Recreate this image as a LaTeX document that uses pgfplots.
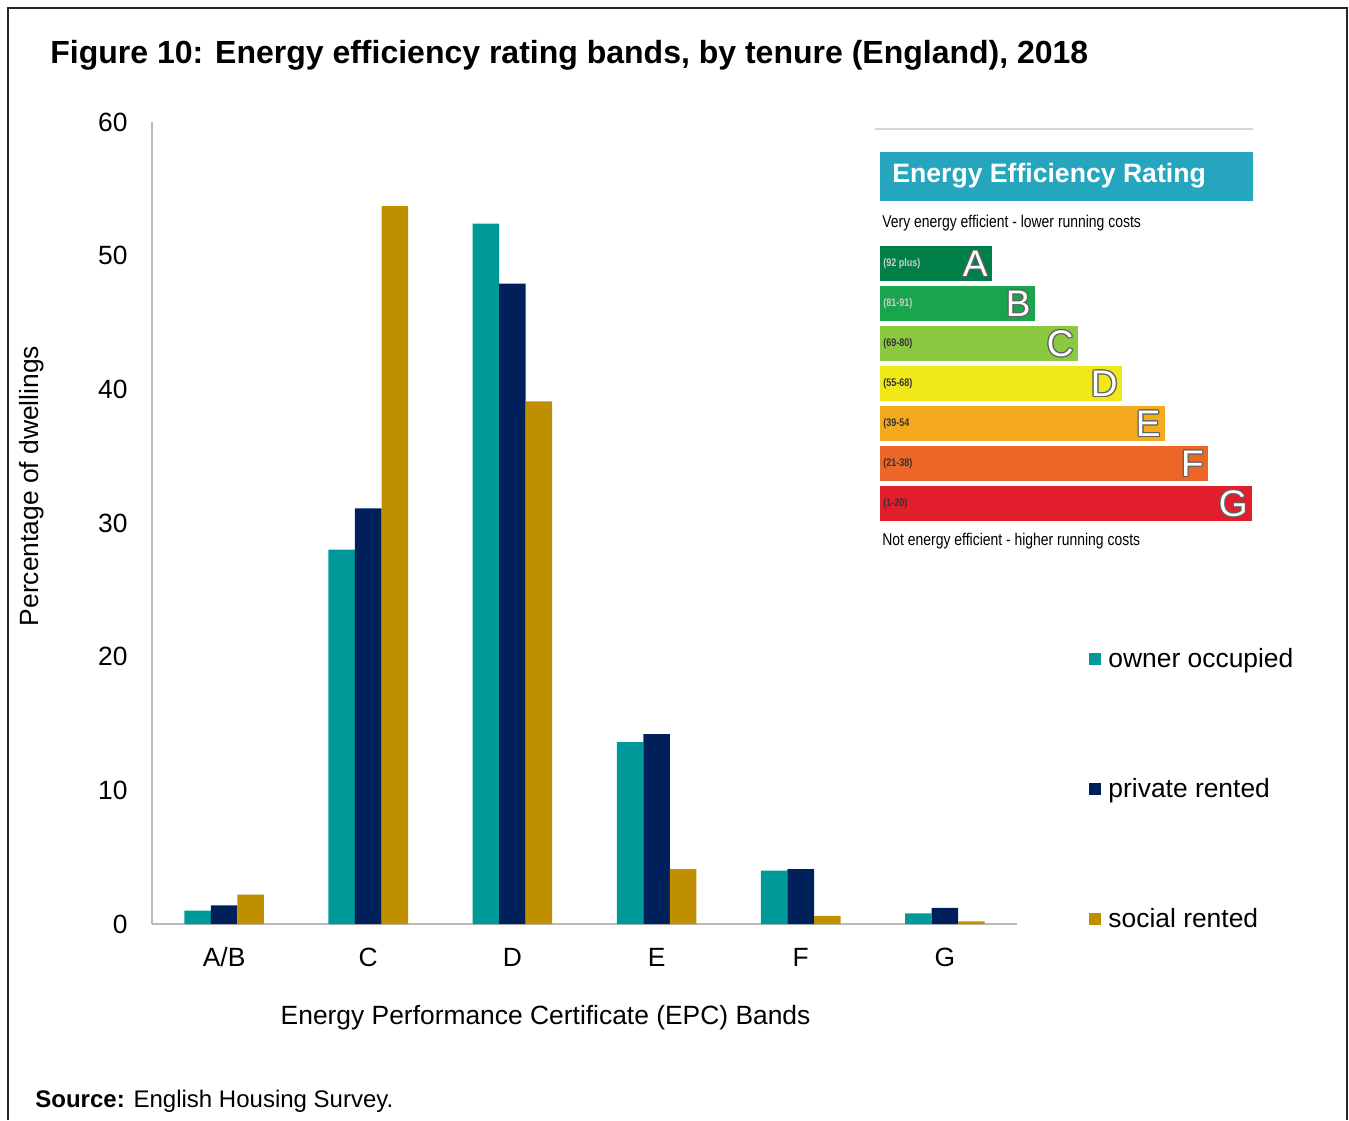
\documentclass[border=0pt]{standalone}
\usepackage{pgfplots}
\pgfplotsset{compat=1.18}
\usepackage{fontspec}
\setmainfont{Liberation Sans}
\newfontfamily\narrowfont[FakeStretch=0.82]{Liberation Sans}
\definecolor{teal1}{RGB}{0,153,153}
\definecolor{navy1}{RGB}{0,32,91}
\definecolor{gold1}{RGB}{191,143,0}
\definecolor{epchead}{RGB}{38,166,190}
\definecolor{epcA}{RGB}{0,128,72}
\definecolor{epcB}{RGB}{25,165,75}
\definecolor{epcC}{RGB}{141,200,65}
\definecolor{epcD}{RGB}{240,232,25}
\definecolor{epcE}{RGB}{245,170,30}
\definecolor{epcF}{RGB}{236,102,40}
\definecolor{epcG}{RGB}{226,30,45}
\newcommand{\epcfont}{\fontsize{18.5}{18.5}\selectfont}
\newcommand{\epcL}[3]{%
 \foreach \dx/\dy in {0.6/0,-0.6/0,0/0.6,0/-0.6,0.45/0.45,-0.45/0.45,0.45/-0.45,-0.45/-0.45}{
   \node[anchor=east, text=gray!75!black, font=\epcfont, inner sep=0pt] at ([shift={(\dx pt,\dy pt)}]#1pt,#2pt) {#3};}
 \node[anchor=east, text=white, font=\epcfont, inner sep=0pt] at (#1pt,#2pt) {#3};}
\begin{document}
\begin{tikzpicture}
\useasboundingbox (0,0) rectangle (674.5pt,560pt);
% frame
\draw[line width=1pt, black!85] (4pt,0pt) -- (4pt,556pt) -- (673.5pt,556pt) -- (673.5pt,0pt);
% title
\node[anchor=base west, inner sep=0pt, font=\fontsize{16}{20}\selectfont\bfseries] at (25pt,528pt) {Figure 10: Energy efficiency rating bands, by tenure (England), 2018};
% source
\node[anchor=base west, inner sep=0pt, font=\fontsize{12}{14}\selectfont] at (17.5pt,6.5pt) {\textbf{Source:} English Housing Survey.};

\begin{axis}[
  at={(76pt,98pt)}, anchor=south west,
  scale only axis, width=432.5pt, height=401pt,
  xmin=-0.5, xmax=5.5, ymin=0, ymax=60,
  axis x line=bottom, axis y line=left,
  axis line style={gray!55, line width=0.75pt, -},
  major tick length=0pt,
  xtick={0,1,2,3,4,5},
  xticklabels={A/B,C,D,E,F,G},
  ytick={0,10,20,30,40,50,60},
  /pgf/number format/assume math mode=true,
  tick label style={font=\fontsize{13.2}{15}\selectfont},
  yticklabel style={inner sep=0pt, xshift=-12pt},
  xticklabel style={inner sep=0pt, yshift=-11.5pt, text height=9.6pt, text depth=0pt},
  ylabel={Percentage of dwellings},
  ylabel style={at={(axis description cs:-0.139,0.546)}, anchor=center, font=\fontsize{13.2}{15}\selectfont},
  xlabel={Energy Performance Certificate (EPC) Bands},
  xlabel style={at={(axis description cs:0.455,-0.117)}, anchor=center, font=\fontsize{13.2}{15}\selectfont},
  ybar, bar width=0.184,
  clip=false,
  legend style={at={(axis description cs:1.076,0.168)}, anchor=west, draw=none, fill=none,
     font=\fontsize{13.2}{15}\selectfont, row sep=54pt, nodes={inner sep=0pt},
     legend cell align=left},
  legend image code/.code={\fill[#1] (0pt,-3pt) rectangle (6pt,3pt);},
]
\addplot[fill=teal1, draw=none, bar shift=-0.184] coordinates {(0,1.0) (1,28.0) (2,52.4) (3,13.6) (4,4.0) (5,0.8)};
\addlegendentry{\ owner occupied}
\addplot[fill=navy1, draw=none, bar shift=0] coordinates {(0,1.4) (1,31.1) (2,47.9) (3,14.2) (4,4.1) (5,1.2)};
\addlegendentry{\ private rented}
\addplot[fill=gold1, draw=none, bar shift=0.184] coordinates {(0,2.2) (1,53.7) (2,39.1) (3,4.1) (4,0.6) (5,0.2)};
\addlegendentry{\ social rented}
\end{axis}

% EPC graphic
\draw[line width=0.6pt, color={rgb,255:red,205;green,218;blue,228}] (437.5pt,495.5pt) -- (626.5pt,495.5pt);
\fill[epchead] (440pt,459.5pt) rectangle (626.5pt,484pt);
\node[anchor=west, inner sep=0pt, text=white, font=\fontsize{13.3}{15}\selectfont\bfseries] at (446pt,472pt) {Energy Efficiency Rating};
\node[anchor=west, inner sep=0pt, font=\narrowfont\fontsize{8.5}{9}\selectfont] at (441pt,448.5pt) {Very energy efficient - lower running costs};
\node[anchor=west, inner sep=0pt, font=\narrowfont\fontsize{8.5}{9}\selectfont] at (441pt,289.5pt) {Not energy efficient - higher running costs};

\begin{axis}[
  at={(440pt,295pt)}, anchor=south west,
  scale only axis, width=186pt, height=145pt,
  xmin=0, xmax=372, ymin=240, ymax=530, y dir=reverse,
  hide axis, xbar, bar width=35, clip=false,
]
\addplot[fill=epcA, draw=none, bar shift=0] coordinates {(112,263.5)};
\addplot[fill=epcB, draw=none, bar shift=0] coordinates {(155,303.5)};
\addplot[fill=epcC, draw=none, bar shift=0] coordinates {(198,343.5)};
\addplot[fill=epcD, draw=none, bar shift=0] coordinates {(242,383.5)};
\addplot[fill=epcE, draw=none, bar shift=0] coordinates {(285,423.5)};
\addplot[fill=epcF, draw=none, bar shift=0] coordinates {(328,463.5)};
\addplot[fill=epcG, draw=none, bar shift=0] coordinates {(372,503.5)};
\node[anchor=west, inner sep=0pt, text=white!80!black, font=\narrowfont\fontsize{5.5}{6}\selectfont\bfseries] at (axis cs:3,263.5) {(92 plus)};
\node[anchor=west, inner sep=0pt, text=white!80!black, font=\narrowfont\fontsize{5.5}{6}\selectfont\bfseries] at (axis cs:3,303.5) {(81-91)};
\node[anchor=west, inner sep=0pt, text=black!80, font=\narrowfont\fontsize{5.5}{6}\selectfont\bfseries] at (axis cs:3,343.5) {(69-80)};
\node[anchor=west, inner sep=0pt, text=black!80, font=\narrowfont\fontsize{5.5}{6}\selectfont\bfseries] at (axis cs:3,383.5) {(55-68)};
\node[anchor=west, inner sep=0pt, text=black!80, font=\narrowfont\fontsize{5.5}{6}\selectfont\bfseries] at (axis cs:3,423.5) {(39-54};
\node[anchor=west, inner sep=0pt, text=black!80, font=\narrowfont\fontsize{5.5}{6}\selectfont\bfseries] at (axis cs:3,463.5) {(21-38)};
\node[anchor=west, inner sep=0pt, text=black!80, font=\narrowfont\fontsize{5.5}{6}\selectfont\bfseries] at (axis cs:3,503.5) {(1-20)};
\end{axis}
\epcL{494}{428.25}{A}
\epcL{515.5}{408.25}{B}
\epcL{537}{388.25}{C}
\epcL{559}{368.25}{D}
\epcL{580.5}{348.25}{E}
\epcL{602}{328.25}{F}
\epcL{624}{308.25}{G}
\end{tikzpicture}
\end{document}
